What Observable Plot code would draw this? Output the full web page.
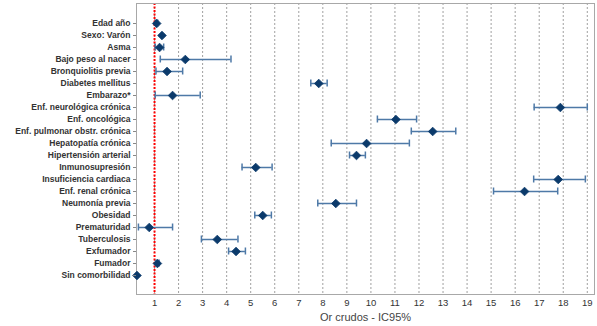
<!DOCTYPE html>
<html>
<head>
<meta charset="utf-8">
<script src="https://cdn.jsdelivr.net/npm/d3@7"></script>
<script src="https://cdn.jsdelivr.net/npm/@observablehq/plot@0.6"></script>
<style>
  body { margin: 0; background: #fff; }
  #chart svg { display: block; }
</style>
</head>
<body>
<div id="chart"></div>
<script>
const categories = [
  "Edad año", "Sexo: Varón", "Asma", "Bajo peso al nacer", "Bronquiolitis previa",
  "Diabetes mellitus", "Embarazo*", "Enf. neurológica crónica", "Enf. oncológica",
  "Enf. pulmonar obstr. crónica", "Hepatopatía crónica", "Hipertensión arterial",
  "Inmunosupresión", "Insuficiencia cardiaca", "Enf. renal crónica", "Neumonía previa",
  "Obesidad", "Prematuridad", "Tuberculosis", "Exfumador", "Fumador", "Sin comorbilidad"
];
const orValues = [1.09, 1.31, 1.21, 2.28, 1.52, 7.83, 1.75, 17.88, 11.04, 12.57, 9.82, 9.40,
  5.21, 17.79, 16.39, 8.54, 5.50, 0.78, 3.61, 4.39, 1.12, 0.27];
const ciLow = [1.05, null, 1.03, 1.24, 1.06, 7.50, 1.03, 16.79, 10.27, 11.68, 8.35, 9.11,
  4.64, 16.77, 15.10, 7.79, 5.17, 0.33, 2.95, 4.08, 1.06, null];
const ciHigh = [1.13, null, 1.38, 4.18, 2.17, 8.18, 2.90, 19.00, 11.90, 13.53, 11.60, 9.77,
  5.89, 18.92, 17.77, 9.40, 5.86, 1.75, 4.47, 4.78, 1.19, null];
const xTicks = [1, 2, 3, 4, 5, 6, 7, 8, 9, 10, 11, 12, 13, 14, 15, 16, 17, 18, 19];
const refLine = [1];

const rows = categories.map((c, i) => ({c, or: orValues[i], lo: ciLow[i], hi: ciHigh[i]}));
const ciRows = rows.filter(d => d.lo != null);

const barColor = "#4e79a7";
const dotColor = "#0b3a6b";

const chart = Plot.plot({
  width: 597,
  height: 326,
  marginLeft: 136,
  marginRight: 3,
  marginTop: 3,
  marginBottom: 32,
  style: {fontFamily: "'Liberation Sans', Arial, sans-serif", background: "#fff"},
  x: {domain: [0.25, 19.3]},
  y: {type: "band", domain: categories, paddingInner: 0, paddingOuter: 1.125},
  marks: [
    Plot.ruleX(xTicks, {stroke: "#a0a0a0", strokeDasharray: "2,2", strokeWidth: 1}),
    Plot.ruleX(refLine, {stroke: "#ff0000", strokeDasharray: "2,1.5", strokeWidth: 2}),
    Plot.frame({stroke: "#a8a8a8"}),
    Plot.ruleY(ciRows, {y: "c", x1: "lo", x2: "hi", stroke: barColor, strokeWidth: 1.5}),
    Plot.tickX(ciRows, {x: "lo", y: "c", stroke: barColor, strokeWidth: 1.5, insetTop: 2.5, insetBottom: 2.5}),
    Plot.tickX(ciRows, {x: "hi", y: "c", stroke: barColor, strokeWidth: 1.5, insetTop: 2.5, insetBottom: 2.5}),
    Plot.dot(rows, {x: "or", y: "c", symbol: "diamond2", r: 3.9, fill: dotColor, stroke: dotColor, strokeWidth: 0.8}),
    Plot.axisY({
      tickSize: 3, tickPadding: 3, stroke: "#888",
      fontSize: 8.5, fontWeight: "bold", fill: "#333",
      label: null
    }),
    Plot.axisX(xTicks, {
      tickSize: 0, tickPadding: 5, fontSize: 9.5, fill: "#333", label: null
    }),
    Plot.axisX([], {
      tickSize: 0, fontSize: 11, fill: "#444",
      label: "Or crudos - IC95%", labelAnchor: "center", labelArrow: "none", labelOffset: 26
    })
  ]
});
document.getElementById("chart").appendChild(chart);
</script>
</body>
</html>
